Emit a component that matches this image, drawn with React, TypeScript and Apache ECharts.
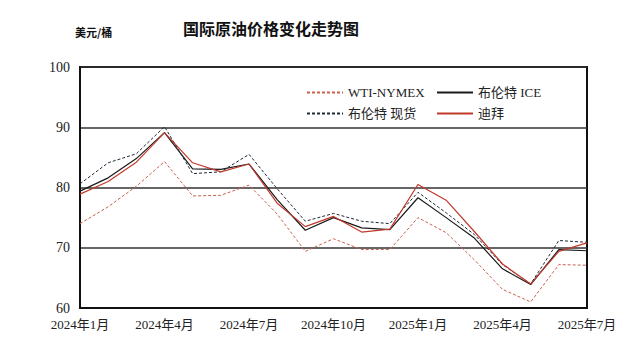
import React, { useEffect, useRef } from "react";
import * as echarts from "echarts";

const months = [
  "2024年1月", "2024年2月", "2024年3月", "2024年4月", "2024年5月", "2024年6月",
  "2024年7月", "2024年8月", "2024年9月", "2024年10月", "2024年11月", "2024年12月",
  "2025年1月", "2025年2月", "2025年3月", "2025年4月", "2025年5月", "2025年6月", "2025年7月",
];

const wti = [74.0, 76.8, 80.2, 84.3, 78.6, 78.7, 80.4, 75.6, 69.4, 71.5, 69.7, 69.7, 75.0, 72.5, 68.0, 63.1, 61.0, 67.2, 67.1];
const brentIce = [79.4, 81.6, 84.8, 89.1, 83.1, 83.0, 83.9, 78.0, 72.9, 75.0, 73.3, 73.0, 78.3, 75.0, 71.6, 66.5, 63.9, 69.7, 69.5];
const brentSpot = [80.6, 84.1, 85.6, 90.1, 82.3, 82.6, 85.5, 79.8, 74.4, 75.7, 74.4, 74.0, 79.2, 75.8, 72.2, 67.2, 64.0, 71.2, 70.9];
const dubai = [78.9, 81.0, 84.2, 89.1, 84.1, 82.6, 83.9, 77.4, 73.5, 75.2, 72.6, 73.1, 80.5, 77.9, 72.7, 67.3, 64.0, 69.4, 70.8];

const serif = "'Liberation Serif', 'Noto Sans CJK SC', serif";

export default function App() {
  const ref = useRef<HTMLDivElement>(null);
  useEffect(() => {
    const chart = echarts.init(ref.current!, null, { renderer: "svg" });
    const legendText = { fontFamily: serif, fontSize: 13, color: "#222" };
    const legendCommon = {
      top: 81,
      orient: "vertical",
      itemWidth: 36,
      itemHeight: 8,
      itemGap: 8,
      textStyle: legendText,
      itemStyle: { opacity: 0 },
    };
    chart.setOption({
      animation: false,
      backgroundColor: "#fff",
      title: [
        {
          text: "国际原油价格变化走势图",
          left: 266,
          textAlign: "center",
          top: 15,
          textStyle: { fontFamily: "'Noto Sans CJK SC'", fontSize: 16, fontWeight: "bold", color: "#111" },
        },
        {
          text: "美元/桶",
          left: 70,
          top: 21,
          textStyle: { fontFamily: "'Noto Sans CJK SC'", fontSize: 11, fontWeight: "bold", color: "#111" },
        },
      ],
      legend: [
        { ...legendCommon, left: 301, data: ["WTI-NYMEX", "布伦特 现货"] },
        { ...legendCommon, left: 431, data: ["布伦特 ICE", "迪拜"] },
      ],
      grid: {
        left: 80,
        right: 53,
        top: 67,
        bottom: 48,
        show: true,
        borderColor: "#111",
        borderWidth: 2,
        backgroundColor: "transparent",
      },
      xAxis: {
        type: "category",
        data: months,
        boundaryGap: false,
        axisLine: { show: true, lineStyle: { color: "#111", width: 2 } },
        axisTick: { show: false },
        axisLabel: {
          interval: 2,
          fontFamily: serif,
          fontSize: 13,
          color: "#222",
          margin: 10,
        },
        splitLine: { show: false },
      },
      yAxis: {
        type: "value",
        min: 60,
        max: 100,
        interval: 10,
        axisLine: { show: true, lineStyle: { color: "#111", width: 2 } },
        axisTick: { show: false },
        axisLabel: { fontFamily: serif, fontSize: 14, color: "#222", margin: 10 },
        splitLine: { show: true, lineStyle: { color: "#333", width: 1.5 } },
      },
      series: [
        {
          name: "WTI-NYMEX",
          type: "line",
          data: wti,
          symbol: "none",
          lineStyle: { color: "#c8604f", width: 1, type: [3, 2] },
          itemStyle: { color: "#c8604f" },
        },
        {
          name: "布伦特 ICE",
          type: "line",
          data: brentIce,
          symbol: "none",
          lineStyle: { color: "#1a1a1a", width: 1.2, type: "solid" },
          itemStyle: { color: "#1a1a1a" },
        },
        {
          name: "布伦特 现货",
          type: "line",
          data: brentSpot,
          symbol: "none",
          lineStyle: { color: "#1e2a3a", width: 1, type: [3, 2] },
          itemStyle: { color: "#1e2a3a" },
        },
        {
          name: "迪拜",
          type: "line",
          data: dubai,
          symbol: "none",
          lineStyle: { color: "#c0392b", width: 1.2, type: "solid" },
          itemStyle: { color: "#c0392b" },
        },
      ],
    });
    return () => chart.dispose();
  }, []);
  return <div ref={ref} style={{ width: 640, height: 356, position: "absolute", left: 0, top: 0 }} />;
}
